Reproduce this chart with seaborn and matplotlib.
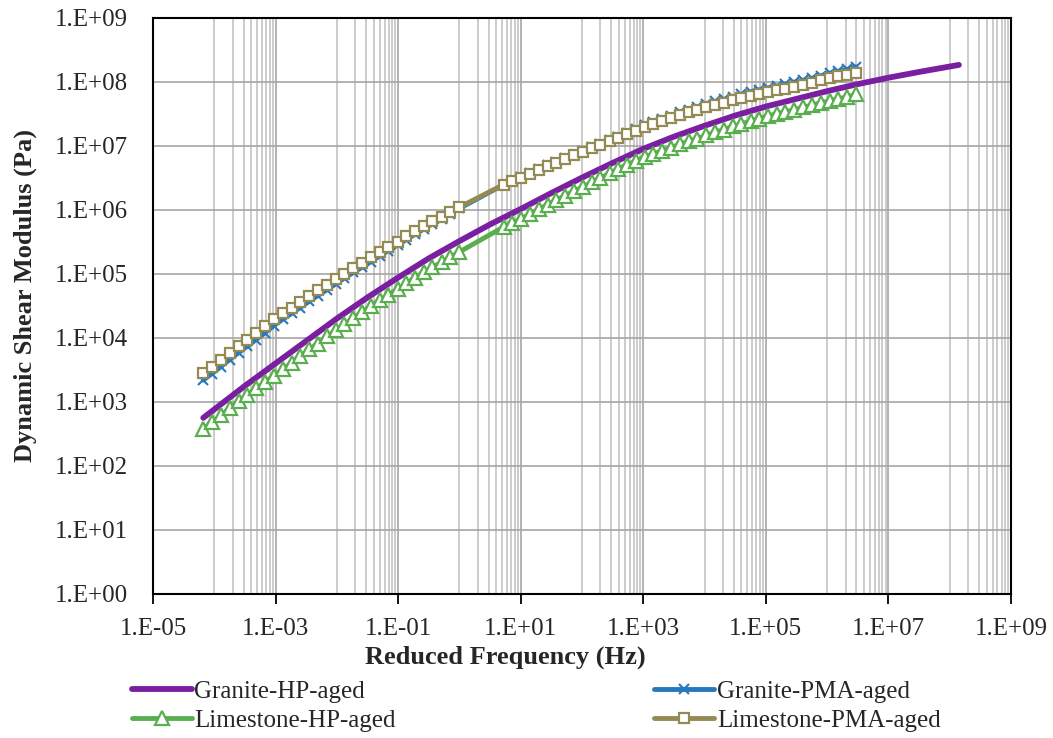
import numpy as np
import pandas as pd
import matplotlib
matplotlib.use("Agg")
import matplotlib.pyplot as plt
import seaborn as sns

# log10 of reduced frequency (Hz) for the measured series
freq_log_measured = [
    -4.18, -4.04, -3.89, -3.75, -3.60, -3.46, -3.32, -3.17, -3.03, -2.88,
    -2.74, -2.60, -2.45, -2.31, -2.16, -2.02, -1.88, -1.73, -1.59, -1.44,
    -1.30, -1.16, -1.01, -0.87, -0.72, -0.58, -0.44, -0.29, -0.15, 0.00,
    0.72, 0.86, 1.01, 1.15, 1.30, 1.44, 1.58, 1.73, 1.87, 2.01,
    2.16, 2.30, 2.45, 2.59, 2.73, 2.88, 3.02, 3.16, 3.31, 3.45,
    3.60, 3.74, 3.88, 4.03, 4.17, 4.31, 4.46, 4.60, 4.75, 4.89,
    5.03, 5.18, 5.32, 5.46, 5.61, 5.75, 5.90, 6.04, 6.18, 6.33, 6.47,
]

# log10 of dynamic shear modulus (Pa)
granite_pma = [
    3.34, 3.44, 3.55, 3.66, 3.77, 3.87, 3.97, 4.08, 4.19, 4.29,
    4.38, 4.47, 4.57, 4.66, 4.75, 4.84, 4.93, 5.02, 5.10, 5.19,
    5.28, 5.36, 5.45, 5.53, 5.62, 5.70, 5.78, 5.86, 5.94, 6.02,
    6.39, 6.45, 6.51, 6.57, 6.63, 6.69, 6.74, 6.80, 6.86, 6.92,
    6.98, 7.03, 7.09, 7.14, 7.20, 7.26, 7.32, 7.37, 7.42, 7.47,
    7.52, 7.56, 7.60, 7.65, 7.69, 7.72, 7.76, 7.80, 7.84, 7.87,
    7.90, 7.93, 7.96, 7.99, 8.02, 8.05, 8.09, 8.13, 8.16, 8.19, 8.23,
]
limestone_hp = [
    2.58, 2.68, 2.79, 2.90, 3.01, 3.11, 3.21, 3.31, 3.41, 3.51,
    3.61, 3.71, 3.82, 3.91, 4.02, 4.12, 4.21, 4.31, 4.40, 4.50,
    4.59, 4.67, 4.76, 4.85, 4.94, 5.03, 5.10, 5.18, 5.26, 5.34,
    5.73, 5.79, 5.86, 5.93, 6.01, 6.08, 6.15, 6.22, 6.29, 6.35,
    6.43, 6.49, 6.57, 6.63, 6.70, 6.76, 6.82, 6.87, 6.92, 6.97,
    7.02, 7.07, 7.11, 7.16, 7.21, 7.25, 7.30, 7.34, 7.38, 7.42,
    7.46, 7.50, 7.53, 7.56, 7.60, 7.63, 7.67, 7.70, 7.73, 7.76, 7.80,
]
limestone_pma = [
    3.45, 3.55, 3.66, 3.76, 3.87, 3.97, 4.07, 4.18, 4.29, 4.38,
    4.47, 4.56, 4.65, 4.74, 4.83, 4.91, 5.00, 5.09, 5.17, 5.26,
    5.34, 5.42, 5.50, 5.59, 5.67, 5.74, 5.82, 5.89, 5.97, 6.04,
    6.39, 6.45, 6.50, 6.56, 6.62, 6.68, 6.73, 6.79, 6.85, 6.90,
    6.96, 7.01, 7.07, 7.12, 7.18, 7.23, 7.29, 7.34, 7.39, 7.43,
    7.48, 7.52, 7.56, 7.60, 7.64, 7.67, 7.71, 7.74, 7.78, 7.81,
    7.84, 7.87, 7.89, 7.92, 7.95, 7.98, 8.02, 8.05, 8.08, 8.11, 8.14,
]

# Granite-HP-aged is drawn as a plain curve
freq_log_granite_hp = [-4.18, -3.5, -3.0, -2.5, -2.0, -1.5, -1.0, -0.5, 0.0, 0.5,
                       1.0, 1.5, 2.0, 2.5, 3.0, 3.5, 4.0, 4.5, 5.0, 5.5,
                       6.0, 6.5, 7.0, 7.5, 8.15]
granite_hp = [2.75, 3.25, 3.60, 3.95, 4.30, 4.63, 4.94, 5.24, 5.51, 5.77,
              6.01, 6.26, 6.50, 6.73, 6.95, 7.14, 7.31, 7.47, 7.61, 7.73,
              7.85, 7.96, 8.06, 8.15, 8.26]

x_ticks = [1e-5, 1e-3, 1e-1, 1e1, 1e3, 1e5, 1e7, 1e9]
x_tick_labels = ["1.E-05", "1.E-03", "1.E-01", "1.E+01", "1.E+03", "1.E+05", "1.E+07", "1.E+09"]
y_ticks = [1e0, 1e1, 1e2, 1e3, 1e4, 1e5, 1e6, 1e7, 1e8, 1e9]
y_tick_labels = ["1.E+00", "1.E+01", "1.E+02", "1.E+03", "1.E+04",
                 "1.E+05", "1.E+06", "1.E+07", "1.E+08", "1.E+09"]

sns.set_style("white")
plt.rcParams["font.family"] = ["Liberation Serif", "DejaVu Serif"]

fig = plt.figure(figsize=(10.53, 7.38), dpi=100)
ax = fig.add_axes([153 / 1053, 1 - 594 / 738, 858 / 1053, 576.5 / 738])

hp_df = pd.DataFrame({"f": np.power(10.0, freq_log_granite_hp), "g": np.power(10.0, granite_hp)})
sns.lineplot(data=hp_df, x="f", y="g", sort=False, ax=ax, color="#7A1FA2", lw=4.2,
             solid_capstyle="round", label="Granite-HP-aged", zorder=3)

meas = pd.DataFrame({"f": np.power(10.0, freq_log_measured),
                     "gpma": np.power(10.0, granite_pma),
                     "lhp": np.power(10.0, limestone_hp),
                     "lpma": np.power(10.0, limestone_pma)})

sns.lineplot(data=meas, x="f", y="gpma", sort=False, ax=ax, color="#2878BE", lw=3.5,
             marker="x", markersize=6.5, markeredgecolor="#2878BE", markeredgewidth=1.5,
             label="Granite-PMA-aged", zorder=3)
sns.lineplot(data=meas, x="f", y="lhp", sort=False, ax=ax, color="#5BAE4F", lw=3.5,
             marker="^", markersize=10, markerfacecolor="white", markeredgecolor="#5BAE4F",
             markeredgewidth=1.6, label="Limestone-HP-aged", zorder=3)
sns.lineplot(data=meas, x="f", y="lpma", sort=False, ax=ax, color="#948A54", lw=3.5,
             marker="s", markersize=6.5, markerfacecolor="white", markeredgecolor="#948A54",
             markeredgewidth=1.6, label="Limestone-PMA-aged", zorder=3)

ax.set_xscale("log")
ax.set_yscale("log")
ax.set_xlim(1e-5, 1e9)
ax.set_ylim(1e0, 1e9)

ax.set_xticks(x_ticks)
ax.set_xticklabels(x_tick_labels)
minor_x = [m * d for d in [1e-4, 1e-2, 1e0, 1e2, 1e4, 1e6, 1e8] for m in range(1, 10)]
ax.set_xticks(minor_x, minor=True)
ax.xaxis.set_minor_formatter(matplotlib.ticker.NullFormatter())
ax.set_yticks(y_ticks)
ax.set_yticklabels(y_tick_labels)
ax.yaxis.set_minor_locator(matplotlib.ticker.NullLocator())

ax.tick_params(axis="x", which="major", direction="out", length=7, width=1.3,
               color="black", labelsize=18, pad=10, bottom=True)
ax.tick_params(axis="x", which="minor", length=0)
ax.tick_params(axis="y", which="major", length=0, labelsize=18, pad=18)

ax.grid(True, axis="x", which="major", color="#A6A6A6", lw=1.2, zorder=0)
ax.grid(True, axis="x", which="minor", color="#C4C4C4", lw=1.2, zorder=0)
ax.grid(True, axis="y", which="major", color="#A6A6A6", lw=1.2, zorder=0)
ax.set_axisbelow(True)

for side in ["left", "bottom", "top", "right"]:
    ax.spines[side].set_visible(True)
    ax.spines[side].set_color("black")
    ax.spines[side].set_linewidth(1.5)

ax.set_xlabel("")
ax.set_ylabel("")
fig.text(505 / 1053, 1 - 657 / 738, "Reduced Frequency (Hz)", fontsize=19,
         fontweight="bold", ha="center", va="center")
fig.text(25 / 1053, 1 - 295 / 738, "Dynamic Shear Modulus (Pa)", fontsize=19,
         fontweight="bold", ha="center", va="center", rotation=90)

# row-wise order like the original legend: fill columns so rows read across
handles, labels = ax.get_legend_handles_labels()
order = [0, 2, 1, 3]
ax.legend([handles[i] for i in order], [labels[i] for i in order],
          loc="upper left", bbox_to_anchor=(-0.025, -0.150, 0.943, 0.0),
          mode="expand", ncol=2, frameon=False, fontsize=18, handlelength=2.4,
          handletextpad=0.1, labelspacing=0.25, borderaxespad=0, borderpad=0)

fig.savefig("out.png", dpi=100)
